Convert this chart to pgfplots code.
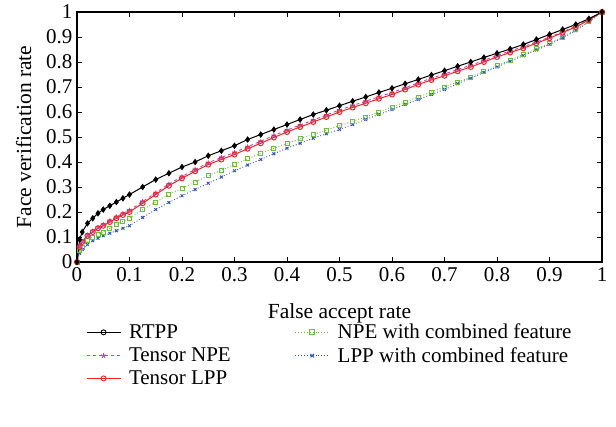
\documentclass[border=0pt]{standalone}
\usepackage{pgfplots}
\pgfplotsset{compat=1.18}
\usepackage{pgfplotstable}
\usepackage{fontspec}
\setmainfont{Liberation Serif}
\definecolor{cRed}{rgb}{0.93,0.15,0.15}
\definecolor{cMag}{rgb}{0.72,0.30,0.70}
\definecolor{cGreen}{rgb}{0.42,0.75,0.25}
\definecolor{cBlue}{rgb}{0.20,0.33,0.72}
\pgfplotstableread{
x      rtpp   tnpe   tlpp   npec   lppc
0      0      0      0      0      0
0.005  0.09   0.062  0.06   0.045  0.035
0.01   0.12   0.083  0.08   0.06   0.05
0.02   0.155  0.108  0.105  0.085  0.07
0.03   0.175  0.124  0.12   0.10   0.085
0.04   0.195  0.139  0.135  0.11   0.095
0.05   0.21   0.150  0.145  0.12   0.105
0.0625 0.225  0.165  0.16   0.135  0.115
0.075  0.24   0.181  0.175  0.15   0.125
0.0875 0.255  0.194  0.188  0.163  0.135
0.1    0.27   0.207  0.20   0.175  0.145
0.125  0.30   0.242  0.235  0.21   0.178
0.15   0.33   0.277  0.27   0.24   0.21
0.175  0.355  0.312  0.305  0.27   0.238
0.2    0.38   0.342  0.335  0.295  0.265
0.225  0.40   0.370  0.363  0.32   0.29
0.25   0.425  0.397  0.39   0.345  0.315
0.275  0.445  0.418  0.41   0.368  0.34
0.3    0.465  0.438  0.43   0.39   0.365
0.325  0.49   0.461  0.453  0.413  0.388
0.35   0.51   0.483  0.475  0.435  0.41
0.375  0.53   0.506  0.498  0.455  0.433
0.4    0.55   0.528  0.52   0.475  0.455
0.425  0.57   0.548  0.54   0.493  0.475
0.45   0.59   0.568  0.56   0.51   0.495
0.475  0.607  0.588  0.58   0.528  0.513
0.5    0.625  0.608  0.60   0.545  0.53
0.525  0.643  0.626  0.618  0.563  0.55
0.55   0.66   0.643  0.635  0.58   0.57
0.575  0.678  0.661  0.653  0.60   0.59
0.6    0.695  0.678  0.67   0.62   0.61
0.625  0.713  0.697  0.69   0.64   0.63
0.65   0.73   0.717  0.71   0.66   0.65
0.675  0.748  0.735  0.728  0.68   0.67
0.7    0.765  0.752  0.745  0.70   0.69
0.725  0.783  0.770  0.763  0.72   0.713
0.75   0.80   0.787  0.78   0.74   0.735
0.775  0.818  0.806  0.80   0.763  0.758
0.8    0.835  0.826  0.82   0.785  0.78
0.825  0.852  0.844  0.838  0.808  0.803
0.85   0.87   0.861  0.855  0.83   0.825
0.875  0.89   0.880  0.875  0.853  0.848
0.9    0.91   0.899  0.895  0.875  0.87
0.925  0.93   0.921  0.918  0.90   0.897
0.95   0.95   0.942  0.94   0.93   0.925
0.975  0.973  0.969  0.968  0.962  0.96
1      1      1      1      1      1
}\rocdata
\begin{document}
\begin{tikzpicture}
\path[use as bounding box] (-77pt,-164pt) rectangle (539pt,262pt);
\begin{axis}[
  at={(0,0)}, anchor=south west,
  scale only axis, width=525pt, height=250pt,
  xmin=0, xmax=1, ymin=0, ymax=1,
  xtick={0,0.1,0.2,0.3,0.4,0.5,0.6,0.7,0.8,0.9,1},
  ytick={0,0.1,0.2,0.3,0.4,0.5,0.6,0.7,0.8,0.9,1},
  xticklabels={0,0.1,0.2,0.3,0.4,0.5,0.6,0.7,0.8,0.9,1},
  yticklabels={0,0.1,0.2,0.3,0.4,0.5,0.6,0.7,0.8,0.9,1},
  tick label style={font=\fontsize{21}{24}\selectfont},
  xticklabel style={yshift=-2pt},
  yticklabel style={xshift=-1pt},
  label style={font=\fontsize{21.5}{24}\selectfont},
  tick align=inside, major tick length=5pt,
  axis line style={line width=1.3pt},
  every tick/.style={black, line width=0.8pt},
  xtick pos=both, ytick pos=both,
  xlabel={False accept rate}, ylabel={Face verification rate},
  xlabel style={yshift=-15pt},
  ylabel style={yshift=8pt},
  legend columns=2,
  legend cell align=left,
  legend style={at={(0.017,-0.24)}, anchor=north west, draw=none, fill=none,
    inner sep=0pt, font=\fontsize{21}{24}\selectfont, row sep=3pt,
    /tikz/every odd column/.append style={column sep=6pt},
    /tikz/every even column/.append style={column sep=62pt},
    legend image code/.code={\draw[#1] (0pt,0pt) -- (34pt,0pt); \draw[#1, only marks] plot coordinates {(17pt,0pt)};}},
]
\addplot[cBlue, dotted, line width=0.9pt, mark=x, mark size=2pt, mark options={solid}, forget plot] table[x=x,y=lppc] {\rocdata};
\addplot[cGreen, dotted, line width=0.9pt, mark=square, mark size=2pt, mark options={solid}, forget plot] table[x=x,y=npec] {\rocdata};
\addplot[cMag, dashed, line width=0.9pt, mark=star, mark size=2.5pt, mark options={solid}, forget plot] table[x=x,y=tnpe] {\rocdata};
\addplot[cRed, line width=1pt, mark=o, mark size=2.5pt, forget plot] table[x=x,y=tlpp] {\rocdata};
\addplot[black, line width=1pt, mark=diamond*, mark size=2.5pt, forget plot] table[x=x,y=rtpp] {\rocdata};
\addlegendimage{black, line width=0.9pt, mark=o, mark size=2.5pt}
\addlegendentry{RTPP}
\addlegendimage{cGreen, dotted, line width=0.9pt, mark=square, mark size=2.5pt, mark options={solid}}
\addlegendentry{NPE with combined feature}
\addlegendimage{cMag, dashed, line width=0.9pt, mark=star, mark size=2.5pt, mark options={solid}}
\addlegendentry{Tensor NPE}
\addlegendimage{cBlue, dotted, line width=0.9pt, mark=x, mark size=2.5pt, mark options={solid}}
\addlegendentry{LPP with combined feature}
\addlegendimage{cRed, line width=0.9pt, mark=o, mark size=2.5pt}
\addlegendentry{Tensor LPP}
\end{axis}
\end{tikzpicture}
\end{document}
